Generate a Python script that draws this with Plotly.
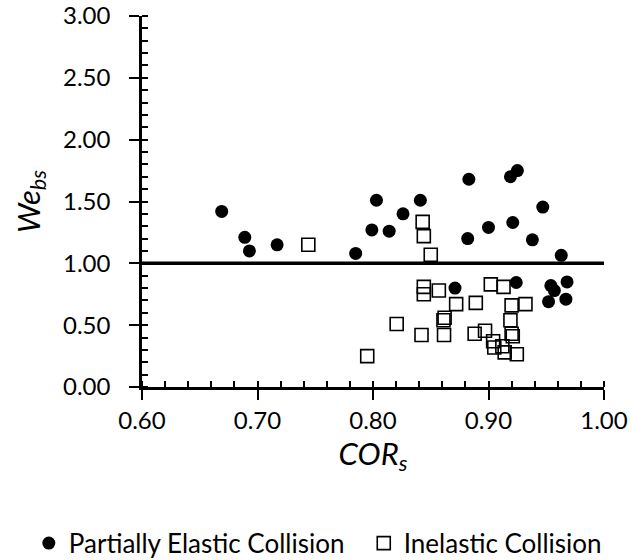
import plotly.graph_objects as go

# Partially elastic collisions (filled circles)
elastic_cor = [0.669, 0.689, 0.693, 0.717, 0.785, 0.799, 0.803, 0.814, 0.826, 0.841,
               0.883, 0.882, 0.900, 0.919, 0.925, 0.921, 0.947, 0.938, 0.963,
               0.871, 0.924, 0.954, 0.957, 0.968, 0.952, 0.967]
elastic_we = [1.42, 1.21, 1.10, 1.15, 1.08, 1.27, 1.51, 1.26, 1.40, 1.51,
              1.68, 1.20, 1.29, 1.70, 1.75, 1.33, 1.455, 1.19, 1.065,
              0.80, 0.845, 0.82, 0.78, 0.85, 0.69, 0.71]

# Inelastic collisions (open squares)
inelastic_cor = [0.744, 0.795, 0.843, 0.844, 0.850, 0.844, 0.844, 0.857, 0.872, 0.889,
                 0.902, 0.913, 0.862, 0.861, 0.8205, 0.842, 0.8615, 0.888, 0.897,
                 0.920, 0.932, 0.919, 0.920, 0.921, 0.904, 0.905, 0.912, 0.914, 0.9245]
inelastic_we = [1.15, 0.25, 1.335, 1.22, 1.07, 0.81, 0.75, 0.78, 0.67, 0.68,
                0.83, 0.81, 0.56, 0.54, 0.51, 0.42, 0.42, 0.43, 0.455,
                0.66, 0.67, 0.54, 0.43, 0.41, 0.37, 0.32, 0.33, 0.28, 0.265]

THRESHOLD = 1.0
X_RANGE = [0.6, 1.0]
Y_RANGE = [0.0, 3.0]
x_tickvals = [0.6, 0.7, 0.8, 0.9, 1.0]
x_ticktext = ["0.60", "0.70", "0.80", "0.90", "1.00"]
y_tickvals = [0.0, 0.5, 1.0, 1.5, 2.0, 2.5, 3.0]
y_ticktext = ["0.00", "0.50", "1.00", "1.50", "2.00", "2.50", "3.00"]

FONT = "Lato, 'Open Sans', sans-serif"

fig = go.Figure()
fig.add_trace(go.Scatter(
    x=elastic_cor, y=elastic_we, mode="markers", name="Partially Elastic Collision",
    marker=dict(symbol="circle", size=13, color="black", line=dict(width=0)),
    legend="legend",
))
fig.add_trace(go.Scatter(
    x=inelastic_cor, y=inelastic_we, mode="markers", name="Inelastic Collision",
    marker=dict(symbol="square-open", size=13, color="black", line=dict(width=1.6)),
    legend="legend2",
))

fig.add_shape(type="line", xref="x", yref="y", x0=X_RANGE[0], x1=X_RANGE[1],
              y0=THRESHOLD, y1=THRESHOLD, line=dict(color="black", width=3.5), layer="above")

axis_common = dict(
    showline=True, linecolor="black", linewidth=2.5, showgrid=False, zeroline=False,
    ticks="outside", ticklen=10, tickwidth=2, tickcolor="black",
    tickfont=dict(family=FONT, size=24, color="black"),
)

fig.update_xaxes(
    range=X_RANGE, tickvals=x_tickvals, ticktext=x_ticktext, **axis_common,
    minor=dict(dtick=0.02, ticks="inside", ticklen=6, tickwidth=2, tickcolor="black"),
    title=dict(text="<i>COR<sub>s</sub></i>", font=dict(family=FONT, size=31, color="black"), standoff=8),
)
fig.update_yaxes(
    range=Y_RANGE, tickvals=y_tickvals, ticktext=y_ticktext, **axis_common,
    minor=dict(dtick=0.1, ticks="inside", ticklen=6, tickwidth=2, tickcolor="black"),
    ticklabelstandoff=14,
    title=dict(text="<i>We<sub>bs</sub></i>", font=dict(family=FONT, size=31, color="black"), standoff=14),
)

# overlay axes: inner half of the major ticks (so they cross the axis lines)
overlay_common = dict(showline=False, showgrid=False, zeroline=False, showticklabels=False,
                      ticks="inside", ticklen=5, tickwidth=2, tickcolor="black")

legend_style = dict(
    orientation="h", xref="paper", yref="container", y=0.03,
    xanchor="left", yanchor="middle",
    font=dict(family=FONT, size=26, color="black"),
    itemsizing="trace", bgcolor="rgba(0,0,0,0)",
)

fig.update_layout(
    width=631, height=560,
    margin=dict(l=142, r=27, t=16, b=173, autoexpand=False),
    plot_bgcolor="white", paper_bgcolor="white",
    font=dict(family=FONT, color="black"),
    showlegend=True,
    xaxis2=dict(overlaying="x", side="bottom", anchor="y", range=X_RANGE, tickvals=x_tickvals, **overlay_common),
    yaxis2=dict(overlaying="y", side="left", anchor="x", range=Y_RANGE, tickvals=y_tickvals, **overlay_common),
    legend=dict(x=-0.245, **legend_style),
    legend2=dict(x=0.48, **legend_style),
)

fig.write_html("out.html")
